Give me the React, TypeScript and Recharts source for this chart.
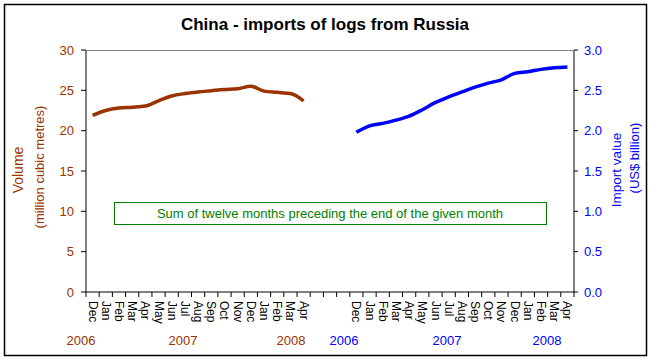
import React from 'react';
import { ComposedChart, Line, XAxis, YAxis } from 'recharts';

const months = ['Dec', 'Jan', 'Feb', 'Mar', 'Apr', 'May', 'Jun', 'Jul', 'Aug', 'Sep', 'Oct', 'Nov', 'Dec', 'Jan', 'Feb', 'Mar', 'Apr'];
const volume = [21.9, 22.5, 22.8, 22.9, 23.05, 23.7, 24.3, 24.6, 24.8, 24.95, 25.1, 25.2, 25.5, 24.9, 24.75, 24.6, 23.7];
const importValue = [1.98, 2.06, 2.09, 2.13, 2.18, 2.26, 2.35, 2.42, 2.48, 2.54, 2.59, 2.63, 2.71, 2.73, 2.76, 2.78, 2.79];
const gapCount = 3;
const volumeTicks = [0, 5, 10, 15, 20, 25, 30];
const valueTicks = [0, 0.5, 1.0, 1.5, 2.0, 2.5, 3.0];
const yearLabelsLeft = ['2006', '2007', '2008'];
const yearLabelsRight = ['2006', '2007', '2008'];

const BROWN = '#993300';
const BLUE = '#0000FF';
const GREEN = '#008000';
const FONT = 'Arial, "Liberation Sans", sans-serif';

const W = 651;
const H = 360;
const PLOT_L = 86;
const PLOT_R = 574;
const PLOT_T = 50;
const PLOT_B = 292;

type Row = { idx: number; label: string; vol: number | null; val: number | null };
const data: Row[] = [];
months.forEach((m, i) => data.push({ idx: data.length, label: m, vol: volume[i], val: null }));
for (let i = 0; i < gapCount; i++) data.push({ idx: data.length, label: '', vol: null, val: null });
months.forEach((m, i) => data.push({ idx: data.length, label: m, vol: null, val: importValue[i] }));

const N = data.length;
const HALF = (PLOT_R - PLOT_L) / N / 2;

const MonthTick = (props: any) => {
  const { x, y, payload } = props;
  const i = payload.value as number;
  const label = data[i] ? data[i].label : '';
  return (
    <g>
      <line x1={x - HALF} y1={y} x2={x - HALF} y2={y + 5} stroke="#000" strokeWidth={1} />
      {i === N - 1 && <line x1={x + HALF} y1={y} x2={x + HALF} y2={y + 5} stroke="#000" strokeWidth={1} />}
      {label && (
        <text
          x={0}
          y={0}
          transform={`translate(${x},${y + 9}) rotate(90)`}
          textAnchor="start"
          dominantBaseline="central"
          fontSize={12}
          fontFamily={FONT}
          fill="#000"
        >
          {label}
        </text>
      )}
    </g>
  );
};

export default function App() {
  return (
    <div style={{ position: 'absolute', left: 0, top: 0, width: W, height: H, background: '#fff' }}>
      <ComposedChart
        width={W}
        height={H}
        data={data}
        margin={{ top: PLOT_T, right: W - PLOT_R - 48, bottom: H - PLOT_B - 40, left: PLOT_L - 50 }}
      >
        <XAxis
          dataKey="idx"
          type="category"
          scale="band"
          interval={0}
          tickLine={false}
          tickSize={0}
          tickMargin={0}
          height={40}
          axisLine={{ stroke: '#000', strokeWidth: 1 }}
          tick={<MonthTick />}
        />
        <YAxis
          yAxisId="vol"
          orientation="left"
          width={50}
          domain={[0, 30]}
          ticks={volumeTicks}
          interval={0}
          tickSize={5}
          tickMargin={7}
          axisLine={{ stroke: '#000', strokeWidth: 1 }}
          tickLine={{ stroke: '#000', strokeWidth: 1 }}
          tick={{ fill: BROWN, fontSize: 13, fontFamily: FONT }}
        />
        <YAxis
          yAxisId="val"
          orientation="right"
          width={48}
          domain={[0, 3]}
          ticks={valueTicks}
          interval={0}
          tickSize={4}
          tickMargin={6}
          tickFormatter={(v: number) => v.toFixed(1)}
          axisLine={{ stroke: '#000', strokeWidth: 1 }}
          tickLine={{ stroke: '#000', strokeWidth: 1 }}
          tick={{ fill: BLUE, fontSize: 13, fontFamily: FONT }}
        />
        <Line
          yAxisId="vol"
          dataKey="vol"
          type="monotone"
          stroke={BROWN}
          strokeWidth={3.5}
          dot={false}
          connectNulls={false}
          isAnimationActive={false}
        />
        <Line
          yAxisId="val"
          dataKey="val"
          type="monotone"
          stroke={BLUE}
          strokeWidth={3.5}
          dot={false}
          connectNulls={false}
          isAnimationActive={false}
        />
      </ComposedChart>
      <svg
        width={W}
        height={H}
        style={{ position: 'absolute', left: 0, top: 0, pointerEvents: 'none' }}
        fontFamily={FONT}
      >
        <rect x={4.5} y={4.5} width={642} height={351} fill="none" stroke="#000" strokeWidth={1.5} />
        <line x1={PLOT_L} y1={PLOT_T + 0.5} x2={PLOT_R} y2={PLOT_T + 0.5} stroke="#808080" strokeWidth={1} />
        <text x={325} y={30} textAnchor="middle" fontSize={17} fontWeight="bold" fill="#000">
          China - imports of logs from Russia
        </text>
        <text transform="translate(18,170) rotate(-90)" textAnchor="middle" dominantBaseline="central" fontSize={14} fill={BROWN}>
          Volume
        </text>
        <text transform="translate(39,167) rotate(-90)" textAnchor="middle" dominantBaseline="central" fontSize={13} fill={BROWN}>
          (million cubic metres)
        </text>
        <text transform="translate(616,170) rotate(-90)" textAnchor="middle" dominantBaseline="central" fontSize={13.5} fill={BLUE}>
          Import value
        </text>
        <text transform="translate(634,158) rotate(-90)" textAnchor="middle" dominantBaseline="central" fontSize={13} fill={BLUE}>
          (US$ billion)
        </text>
        <rect x={114.5} y={202.5} width={432} height={22} fill="#fff" stroke={GREEN} strokeWidth={1} />
        <text x={330} y={218} textAnchor="middle" fontSize={13} fill={GREEN}>
          Sum of twelve months preceding the end of the given month
        </text>
        {yearLabelsLeft.map((t, i) => (
          <text key={'l' + t} x={[81, 183, 291][i]} y={345} textAnchor="middle" fontSize={13} fill={BROWN}>
            {t}
          </text>
        ))}
        {yearLabelsRight.map((t, i) => (
          <text key={'r' + t} x={[344, 447, 547][i]} y={345} textAnchor="middle" fontSize={13} fill={BLUE}>
            {t}
          </text>
        ))}
      </svg>
    </div>
  );
}
